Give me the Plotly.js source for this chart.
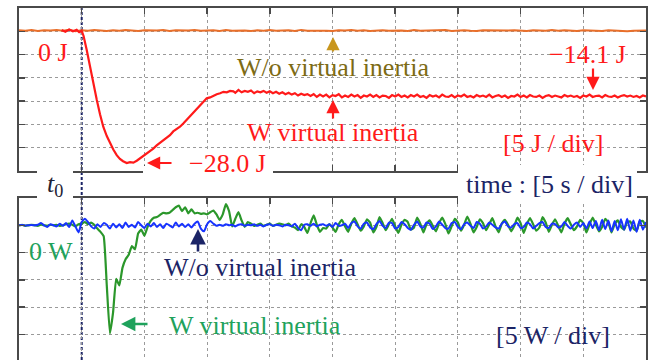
<!DOCTYPE html>
<html><head><meta charset="utf-8">
<script src="https://cdn.plot.ly/plotly-3.0.1.min.js"></script>
<style>html,body{margin:0;padding:0;background:#fff}#chart{width:649px;height:360px}</style>
</head><body><div id="chart"></div>
<script>
// ---- time axis: 5 s / div, disturbance at t0 = 0 s ----
const xRange = [-5, 45];
const xDiv = 5;
// ---- top panel: stored energy deviation [J], 5 J / div ----
const energyRange = [-30, 5];
const energyNoVIStart = -5, energyNoVIStep = 0.5;
const energyNoVI = [
 0.2,0.1,0.25,0.05,0.2,0.15,0.3,0.1,0.35,0.0,
 0.2,0.1,0.25,0.15,0.05,0.2,0.1,0.3,0.15,0.05,
 0.2,0.1,0.15,0.25,0.05,0.2,0.1,0.15,0.3,0.1,
 0.15,0.2,0.05,0.25,0.1,0.2,0.15,0.05,0.2,0.1,
 0.25,0.1,0.15,0.2,0.05,0.3,0.1,0.15,0.2,0.1,
 0.05,0.2,0.15,0.25,0.1,0.2,0.05,0.15,0.2,0.1,
 0.2,0.15,0.05,0.25,0.1,0.15,0.2,0.1,0.25,0.05,
 0.15,0.2,0.1,0.05,0.2,0.15,0.25,0.1,0.15,0.2,
 0.1,0.05,0.2,0.15,0.1,0.25,0.1,0.2,0.15,0.05,
 0.2,0.1,0.15,0.05,0.2,0.1,0.15,0.0,0.1,0.05,0.15];
const energyVITransT = [-1.6,-1.3,-1.0,-0.7,-0.4,-0.2,0,0.15,0.4,0.66,0.93,1.2,1.46,1.72,2.0,2.26,2.52,2.79,3.05,3.3,3.59,3.85,4.12,4.39,4.65,4.92,5.18,5.45,5.71,5.98,6.24,6.5,6.77,7.04,7.3,7.57,7.84,8.1,8.37,8.64,8.9,9.17,9.43,9.7,9.97,10.24,10.5,10.77,11.04,11.3,11.57,11.83,12.1];
const energyVITransV = [0.3,-0.1,0.4,0.0,0.3,-0.2,0.1,-1.0,-4.0,-7.6,-11.3,-14.7,-17.8,-20.5,-22.5,-24.0,-25.4,-26.6,-27.4,-27.9,-28.3,-28.1,-28.2,-27.8,-27.3,-26.8,-26.2,-25.6,-25.2,-24.5,-24.0,-23.4,-23.0,-22.3,-21.5,-21.0,-20.5,-19.8,-19.0,-18.3,-17.6,-16.6,-15.8,-15.0,-14.4,-14.2,-13.8,-13.5,-13.3,-13.0,-13.1,-12.8,-12.9];
const energyVITailStart = 12.25, energyVITailStep = 0.25;
const energyVITail = [
 -13.2,-12.6,-13.1,-12.8, -13.0,-12.7,-13.3,-12.9, -13.1,-12.8,-13.2,-12.9, -13.3,-13.0,-13.4,-13.1,
 -13.5,-13.2,-13.6,-13.3, -13.8,-13.4,-13.7,-13.5, -13.9,-13.5,-14.1,-13.6, -14.0,-13.6,-14.2,-13.7,
 -13.9,-13.5,-14.2,-13.8, -14.1,-13.6,-14.0,-13.7, -14.3,-13.8,-14.0,-13.6, -14.1,-13.7,-14.2,-13.8,
 -13.9,-14.3,-13.7,-14.0, -13.6,-14.1,-13.8,-14.2, -13.7,-14.0,-13.6,-14.1, -13.9,-14.3,-13.7,-14.0,
 -13.8,-14.2,-13.6,-14.0, -14.1,-13.7,-14.2,-13.8, -14.0,-13.6,-14.1,-13.9, -14.2,-13.7,-14.0,-13.8,
 -14.1,-13.6,-14.2,-13.9, -13.7,-14.1,-13.8,-14.3, -13.9,-14.0,-13.6,-14.1, -13.8,-14.2,-13.7,-14.0,
 -14.1,-13.8,-14.3,-13.9, -13.7,-14.1,-13.8,-14.0, -14.2,-13.7,-14.0,-13.8, -14.1,-13.9,-14.3,-13.8,
 -14.0,-13.6,-14.1,-13.9, -13.8,-14.2,-13.7,-14.0, -14.1,-13.8,-14.2,-13.9, -13.7,-14.0,-13.8,-14.1,
 -13.9,-14.2,-13.8,-14.0];
// ---- bottom panel: power [W], 5 W / div ----
const powerRange = [-24.67, 5];
const powerStart = -5, powerStep = 0.25;
const powerVI = [
 0.0,0.1,-0.1,0.0, 0.1,0.0,-0.1,0.1, 0.0,-0.1,0.1,0.0, 0.1,-0.1,0.0,0.2, 0.3,0.1,-0.2,0.2,
 0.3,0.6,0.2,0.5, 0.1,-0.6,-1.2,-2.0, -11.0,-19.8,-16.0,-9.8, -11.0,-7.8,-6.2,-5.4, -3.8,-4.4,-1.5,-0.8,
 -1.9,-0.3,0.8,1.4, 1.5,1.9,2.3,2.2, 2.3,2.8,3.3,3.6, 2.6,3.3,2.2,2.9, 2.2,2.3,2.1,2.2,
 2.0,2.4,2.7,2.0, 1.0,2.0,3.9,2.6, -0.2,1.2,2.4,0.9, -0.3,0.6,0.3,-0.1, 0.1,0.3,-0.1,0.1,
 0.3,-0.1,0.1,0.3, 0.2,0.0,0.3,-0.2, -0.4,-0.9,0.2,-0.3, -1.4,0.4,1.8,0.1, -1.2,-0.5,-0.6,0.2,
 -0.4,-1.2,0.2,1.0, -0.2,
 -1.2,0.3,1.3,0.2, -1.0,-0.2,1.1,0.5, -1.3,-0.3,1.5,0.4, -0.9,0.2,1.2,-0.2,
 -1.4,0.1,1.0,0.6, -0.8,-0.4,1.4,0.3, -1.3,0.2,0.9,-0.1, -1.1,0.4,1.4,0.2,
 -1.5,-0.2,1.2,0.5, -1.0,0.1,1.6,0.3, -1.3,-0.3,1.1,0.4, -0.9,0.2,1.3,-0.2,
 -1.3,0.3,1.0,0.1, -1.1,-0.1,1.4,0.4, -1.4,0.2,1.3,0.2, -1.0,-0.4,1.5,0.5,
 -1.2,0.1,1.1,-0.1, -1.3,0.3,1.3,0.2, -0.9,-0.2,1.0,0.4, -1.3,0.2,1.4,0.1,
 -1.1,-0.3,1.2,0.5, -1.3,0.2,0.9,-0.3, -0.8,0.6,0.7,-0.6, -1.0,0.7,0.8,-0.4];
const powerNoVI = [
 0.0,0.05,-0.05,0.0, 0.05,0.0,0.1,0.4, 0.0,-0.3,0.2,0.0, -0.2,0.3,-0.1,0.4, -0.3,0.9,-0.2,-1.3,
 0.6,1.2,0.6,-0.2, -0.6,0.2,-0.3,0.4, 0.1,-0.6,0.3,-0.4, 0.2,-0.5,0.5,-0.3, 0.1,-0.4,0.6,0.0,
 -0.5,0.3,-0.2,0.4, -0.3,0.2,-0.5,0.3, 0.0,-0.4,0.5,-0.2, 0.3,-0.3,0.2,-0.4, 0.3,0.7,-0.6,-1.1,
 0.2,0.8,0.3,-0.1, 0.1,-0.1,0.2,0.0, 0.1,-0.2,0.1,0.2, -0.1,0.1,0.0,0.2, -0.1,0.1,-0.2,0.1,
 0.2,-0.1,0.1,0.0, -0.2,0.1,0.0,-0.2, 0.3,-0.5,-0.9,0.1, 0.2,-0.1,0.3,-0.2, 0.1,0.2,-0.1,0.2,
 -0.3,0.4,-0.1,0.0, 0.3,
 -0.5,0.4,0.7,-0.2, -0.6,0.3,0.5,-0.4, -0.7,0.2,0.8,-0.1, -0.5,0.5,0.4,-0.6,
 -0.3,0.6,0.2,-0.5, -0.8,0.1,0.7,-0.2, -0.4,0.5,0.3,-0.7, -0.2,0.7,0.1,-0.5,
 -0.6,0.4,0.6,-0.3, -0.7,0.2,0.5,-0.1, -0.5,0.6,0.3,-0.6, -0.2,0.5,0.1,-0.4,
 -0.6,0.3,0.7,-0.2, -0.4,0.2,0.4,-0.5, -0.3,0.5,0.2,-0.6, -0.1,0.4,0.6,-0.3,
 -0.5,0.3,0.2,-0.4, -0.2,0.6,-0.1,-0.6, 0.1,0.5,-0.3,0.4, -0.6,0.7,-0.5,0.8,
 -0.9,1.0,-0.7,0.9, -1.1,0.8,-0.9,1.1, -0.8,1.2,-1.0,0.9, -1.2,1.0,-0.8,0.6];

const seq = (start, step, arr) => arr.map((_, i) => +(start + i * step).toFixed(3));

const C = {
  orange: '#E96F2A', red: '#FF1A1A', olive: '#7D6B15', gold: '#C8961E',
  green: '#2B972B', greenText: '#1FA25C', blue: '#1733FF', navy: '#1B2466',
  axis: '#4a4a4a', grid: '#9a9a9a'
};
const FONT = 'Liberation Serif, Times New Roman, serif';
const FS = 26;

const traces = [
  {x: seq(energyNoVIStart, energyNoVIStep, energyNoVI), y: energyNoVI, xaxis: 'x', yaxis: 'y',
   mode: 'lines', line: {color: C.orange, width: 2}},
  {x: energyVITransT.concat(seq(energyVITailStart, energyVITailStep, energyVITail)),
   y: energyVITransV.concat(energyVITail), xaxis: 'x', yaxis: 'y',
   mode: 'lines', line: {color: C.red, width: 2.2}},
  {x: seq(powerStart, powerStep, powerVI), y: powerVI, xaxis: 'x2', yaxis: 'y2',
   mode: 'lines', line: {color: C.green, width: 2.2, shape: 'spline', smoothing: 0.4}},
  {x: seq(powerStart, powerStep, powerNoVI), y: powerNoVI, xaxis: 'x2', yaxis: 'y2',
   mode: 'lines', line: {color: C.blue, width: 2, shape: 'spline', smoothing: 0.5}}
];

const W = 649, H = 360, ML = 19, MR = 3, MT = 8, MB = 0;
const PW = W - ML - MR, PH = H - MT - MB;
const X = px => (px - ML) / PW;
const Y = py => (H - MB - py) / PH;

const axBase = {showticklabels: false, showgrid: true, gridcolor: C.grid, griddash: 'dot', gridwidth: 1,
  zeroline: false, showline: true, linecolor: C.axis, linewidth: 2,
  ticks: 'inside', ticklen: 6, tickwidth: 1.5, tickcolor: C.axis, fixedrange: true};

const layout = {
  width: W, height: H, margin: {l: ML, r: MR, t: MT, b: MB},
  paper_bgcolor: '#fff', plot_bgcolor: '#fff', showlegend: false,
  xaxis: Object.assign({}, axBase, {range: xRange, dtick: xDiv, tick0: 0, anchor: 'y', mirror: 'ticks'}),
  yaxis: Object.assign({}, axBase, {range: energyRange, dtick: 5, tick0: 0, domain: [Y(171), 1], anchor: 'x', mirror: 'ticks'}),
  xaxis2: Object.assign({}, axBase, {range: xRange, dtick: xDiv, tick0: 0, anchor: 'y2', side: 'top', mirror: false}),
  yaxis2: Object.assign({}, axBase, {range: powerRange, dtick: 5, tick0: 0, domain: [0, Y(198)], anchor: 'x2', mirror: 'ticks'}),
  shapes: [
    {type: 'line', xref: 'x', yref: 'paper', x0: 0, x1: 0, y0: 0, y1: 1, layer: 'between',
     line: {color: C.navy, width: 2, dash: '3px,2px'}},
    // white label boxes that interrupt the frame
    {type: 'rect', xref: 'paper', yref: 'paper', x0: X(37), x1: X(73), y0: Y(204), y1: Y(165), layer: 'above', fillcolor: '#fff', line: {width: 0}},
    {type: 'rect', xref: 'paper', yref: 'paper', x0: X(458), x1: X(637), y0: Y(204), y1: Y(165), layer: 'above', fillcolor: '#fff', line: {width: 0}},
    {type: 'rect', xref: 'paper', yref: 'paper', x0: X(180), x1: X(273), y0: Y(178), y1: Y(150), layer: 'above', fillcolor: '#fff', line: {width: 0}},
    {type: 'rect', xref: 'paper', yref: 'paper', x0: X(143), x1: X(180), y0: Y(178), y1: Y(166), layer: 'above', fillcolor: '#fff', line: {width: 0}}
  ],
  annotations: []
};

function label(text, px, py, color, extra) {
  layout.annotations.push(Object.assign({text: text, xref: 'paper', yref: 'paper', x: X(px), y: Y(py),
    xanchor: 'center', yanchor: 'middle', showarrow: false, font: {family: FONT, size: FS, color: color}}, extra || {}));
}
function arrow(px, py, ax, ay, color, width) {
  layout.annotations.push({text: '', xref: 'paper', yref: 'paper', x: X(px), y: Y(py), ax: ax, ay: ay,
    axref: 'pixel', ayref: 'pixel', showarrow: true, arrowhead: 2, arrowsize: 1.2, arrowwidth: width || 2.2,
    arrowcolor: color, standoff: 0, startstandoff: 0});
}

label('0 J', 53, 52, C.red);
label('W/o virtual inertia', 333, 67, C.olive);
label('W virtual inertia', 333, 132, C.red);
label('\u221228.0 J', 227, 163, C.red);
label('\u221214.1 J', 587, 54, C.red);
label('[5 J / div]', 553, 143, C.red);
label('<i>t</i><sub>0</sub>', 55, 185, '#222233');
label('time : [5 s / div]', 549, 184, C.navy);
label('0 W', 51, 251, C.greenText);
label('W/o virtual inertia', 260, 267, C.navy);
label('W virtual inertia', 255, 325, C.greenText);
label('[5 W / div]', 553, 335, C.navy);

arrow(333, 37, 0, 16, C.gold);
arrow(333, 100, 0, 20, C.red);
arrow(147, 163, 26, 0, C.red);
arrow(593, 90, 0, -23, C.red);
arrow(198, 229, 0, 24, C.navy, 2.6);
arrow(121, 324, 28, 0, C.greenText, 2.4);

Plotly.newPlot('chart', traces, layout, {staticPlot: true, displayModeBar: false});
</script></body></html>
